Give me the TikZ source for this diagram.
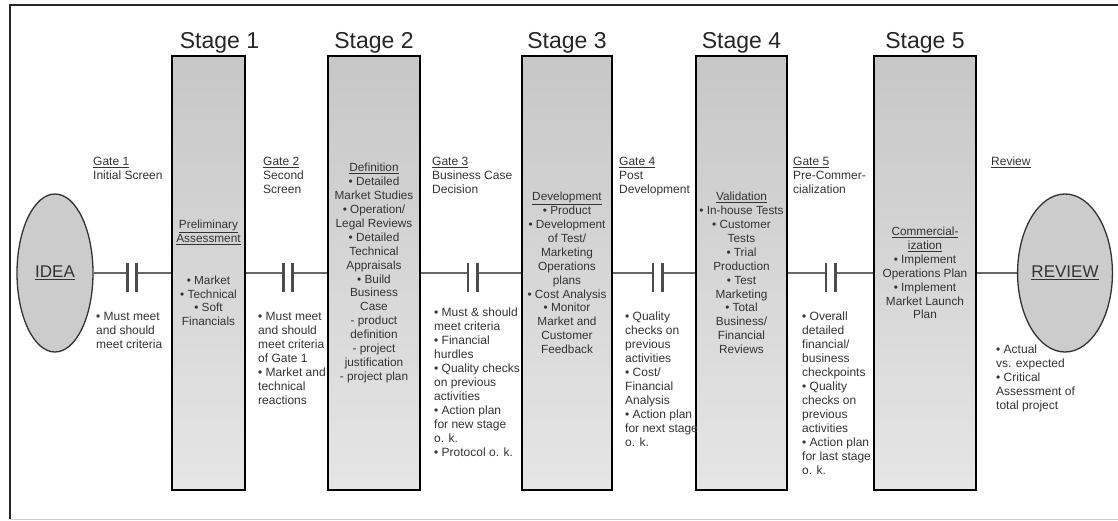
\documentclass[tikz,border=0pt]{standalone}
\usepackage{fontspec}
\setmainfont{Liberation Sans}
\usepackage{tikz}
\usetikzlibrary{shapes.geometric}
\pgfdeclarelayer{background}
\pgfdeclarelayer{foreground}
\pgfsetlayers{background,main,foreground}

\begin{document}
\begin{tikzpicture}[x=1pt,y=-1pt,
  stagebox/.style={draw=black,line width=2.4pt,top color=black!22,bottom color=black!10,minimum height=434pt,inner sep=0pt,align=center,text=black!80,font=\fontsize{11.8}{13.9}\selectfont},
  stagelabel/.style={anchor=south,inner sep=1pt,text=black!85,font=\fontsize{23}{26}\selectfont},
  gate/.style={minimum width=9pt,minimum height=2pt,inner sep=0pt},
  gatebar/.style={line width=2.6pt,black!70},
  wire/.style={line width=2pt,black!60},
  endpoint/.style={ellipse,draw=black!80,line width=1.3pt,fill=black!20,minimum width=76pt,minimum height=158pt,inner sep=0pt,text=black!80,font=\fontsize{17}{20}\selectfont},
  gatelabel/.style={anchor=north west,inner sep=0pt,align=left,text=black!80,font=\fontsize{12}{14}\selectfont}]
\useasboundingbox (0,0) rectangle (1118,521);
\begin{pgfonlayer}{background}
\draw[black!85,line width=2pt] (10,519) -- (10,5) -- (1118,5);
\draw[black!20,line width=1pt] (10,519.5) -- (1118,519.5);
\end{pgfonlayer}
% idea and review
\node[endpoint] (idea) at (55,273) {\underline{IDEA}};
\node[endpoint] (review) at (1065,273) {\underline{REVIEW}};
% stages
\node[stagebox,minimum width=73pt] (s1) at (208.5,273) {\underline{Preliminary}\\\underline{Assessment}\\[27.8pt]• Market\\• Technical\\• Soft\\Financials};
\node[stagebox,minimum width=92pt] (s2) at (374,273) {\underline{Definition}\\• Detailed\\Market Studies\\• Operation/\\Legal Reviews\\• Detailed\\Technical\\Appraisals\\• Build\\Business\\Case\\- product\\definition\\- project\\justification\\- project plan};
\node[stagebox,minimum width=90pt] (s3) at (567,273) {\underline{Development}\\• Product\\• Development\\of Test/\\Marketing\\Operations\\plans\\• Cost Analysis\\• Monitor\\Market and\\Customer\\Feedback};
\node[stagebox,minimum width=91pt] (s4) at (741.5,273) {\underline{Validation}\\• In-house Tests\\• Customer\\Tests\\• Trial\\Production\\• Test\\Marketing\\• Total\\Business/\\Financial\\Reviews};
\node[stagebox,minimum width=102pt] (s5) at (925,273) {\underline{Commercial-}\\\underline{ization}\\• Implement\\Operations Plan\\• Implement\\Market Launch\\Plan};
\node[stagelabel,xshift=11pt] (l1) at (s1.north) {Stage 1};
\node[stagelabel] (l2) at (s2.north) {Stage 2};
\node[stagelabel] (l3) at (s3.north) {Stage 3};
\node[stagelabel] (l4) at (s4.north) {Stage 4};
\node[stagelabel] (l5) at (s5.north) {Stage 5};
% gates
\foreach \g/\x in {g1/132,g2/288,g3/472.5,g4/657.5,g5/830.5}{
  \node[gate] (\g) at (\x,273) {};
  \draw[gatebar] ([yshift=10pt]\g.west) -- ([yshift=-19pt]\g.west);
  \draw[gatebar] ([yshift=10pt]\g.east) -- ([yshift=-19pt]\g.east);
}
\begin{pgfonlayer}{background}
\draw[wire] (idea) -- (g1);
\draw[wire] (g1) -- (s1);
\draw[wire] (s1) -- (g2);
\draw[wire] (g2) -- (s2);
\draw[wire] (s2) -- (g3);
\draw[wire] (g3) -- (s3);
\draw[wire] (s3) -- (g4);
\draw[wire] (g4) -- (s4);
\draw[wire] (s4) -- (g5);
\draw[wire] (g5) -- (s5);
\draw[wire] (s5) -- (review);
\end{pgfonlayer}
% gate texts
\node[gatelabel] (t1) at (93,157) {\underline{Gate 1}\\Initial Screen};
\node[gatelabel] (t2) at (263,157) {\underline{Gate 2}\\Second\\Screen};
\node[gatelabel] (t3) at (432,157) {\underline{Gate 3}\\Business Case\\Decision};
\node[gatelabel] (t4) at (619,157) {\underline{Gate 4}\\Post\\Development};
\node[gatelabel] (t5) at (793,157) {\underline{Gate 5}\\Pre-Commer-\\cialization};
\node[gatelabel] (t6) at (991,157) {\underline{Review}};
\node[gatelabel] (c1) at (96,312) {• Must meet\\and should\\meet criteria};
\node[gatelabel] (c2) at (258,312) {• Must meet\\and should\\meet criteria\\of Gate 1\\• Market and\\technical\\reactions};
\node[gatelabel] (c3) at (434,308) {• Must \& should\\meet criteria\\• Financial\\hurdles\\• Quality checks\\on previous\\activities\\• Action plan\\for new stage\\o. k.\\• Protocol o. k.};
\node[gatelabel] (c4) at (625,312) {• Quality\\checks on\\previous\\activities\\• Cost/\\Financial\\Analysis\\• Action plan\\for next stage\\o. k.};
\node[gatelabel] (c5) at (802,312) {• Overall\\detailed\\financial/\\business\\checkpoints\\• Quality\\checks on\\previous\\activities\\• Action plan\\for last stage\\o. k.};
\node[gatelabel] (c6) at (996,345) {• Actual\\vs. expected\\• Critical\\Assessment of\\total project};
\end{tikzpicture}
\end{document}
